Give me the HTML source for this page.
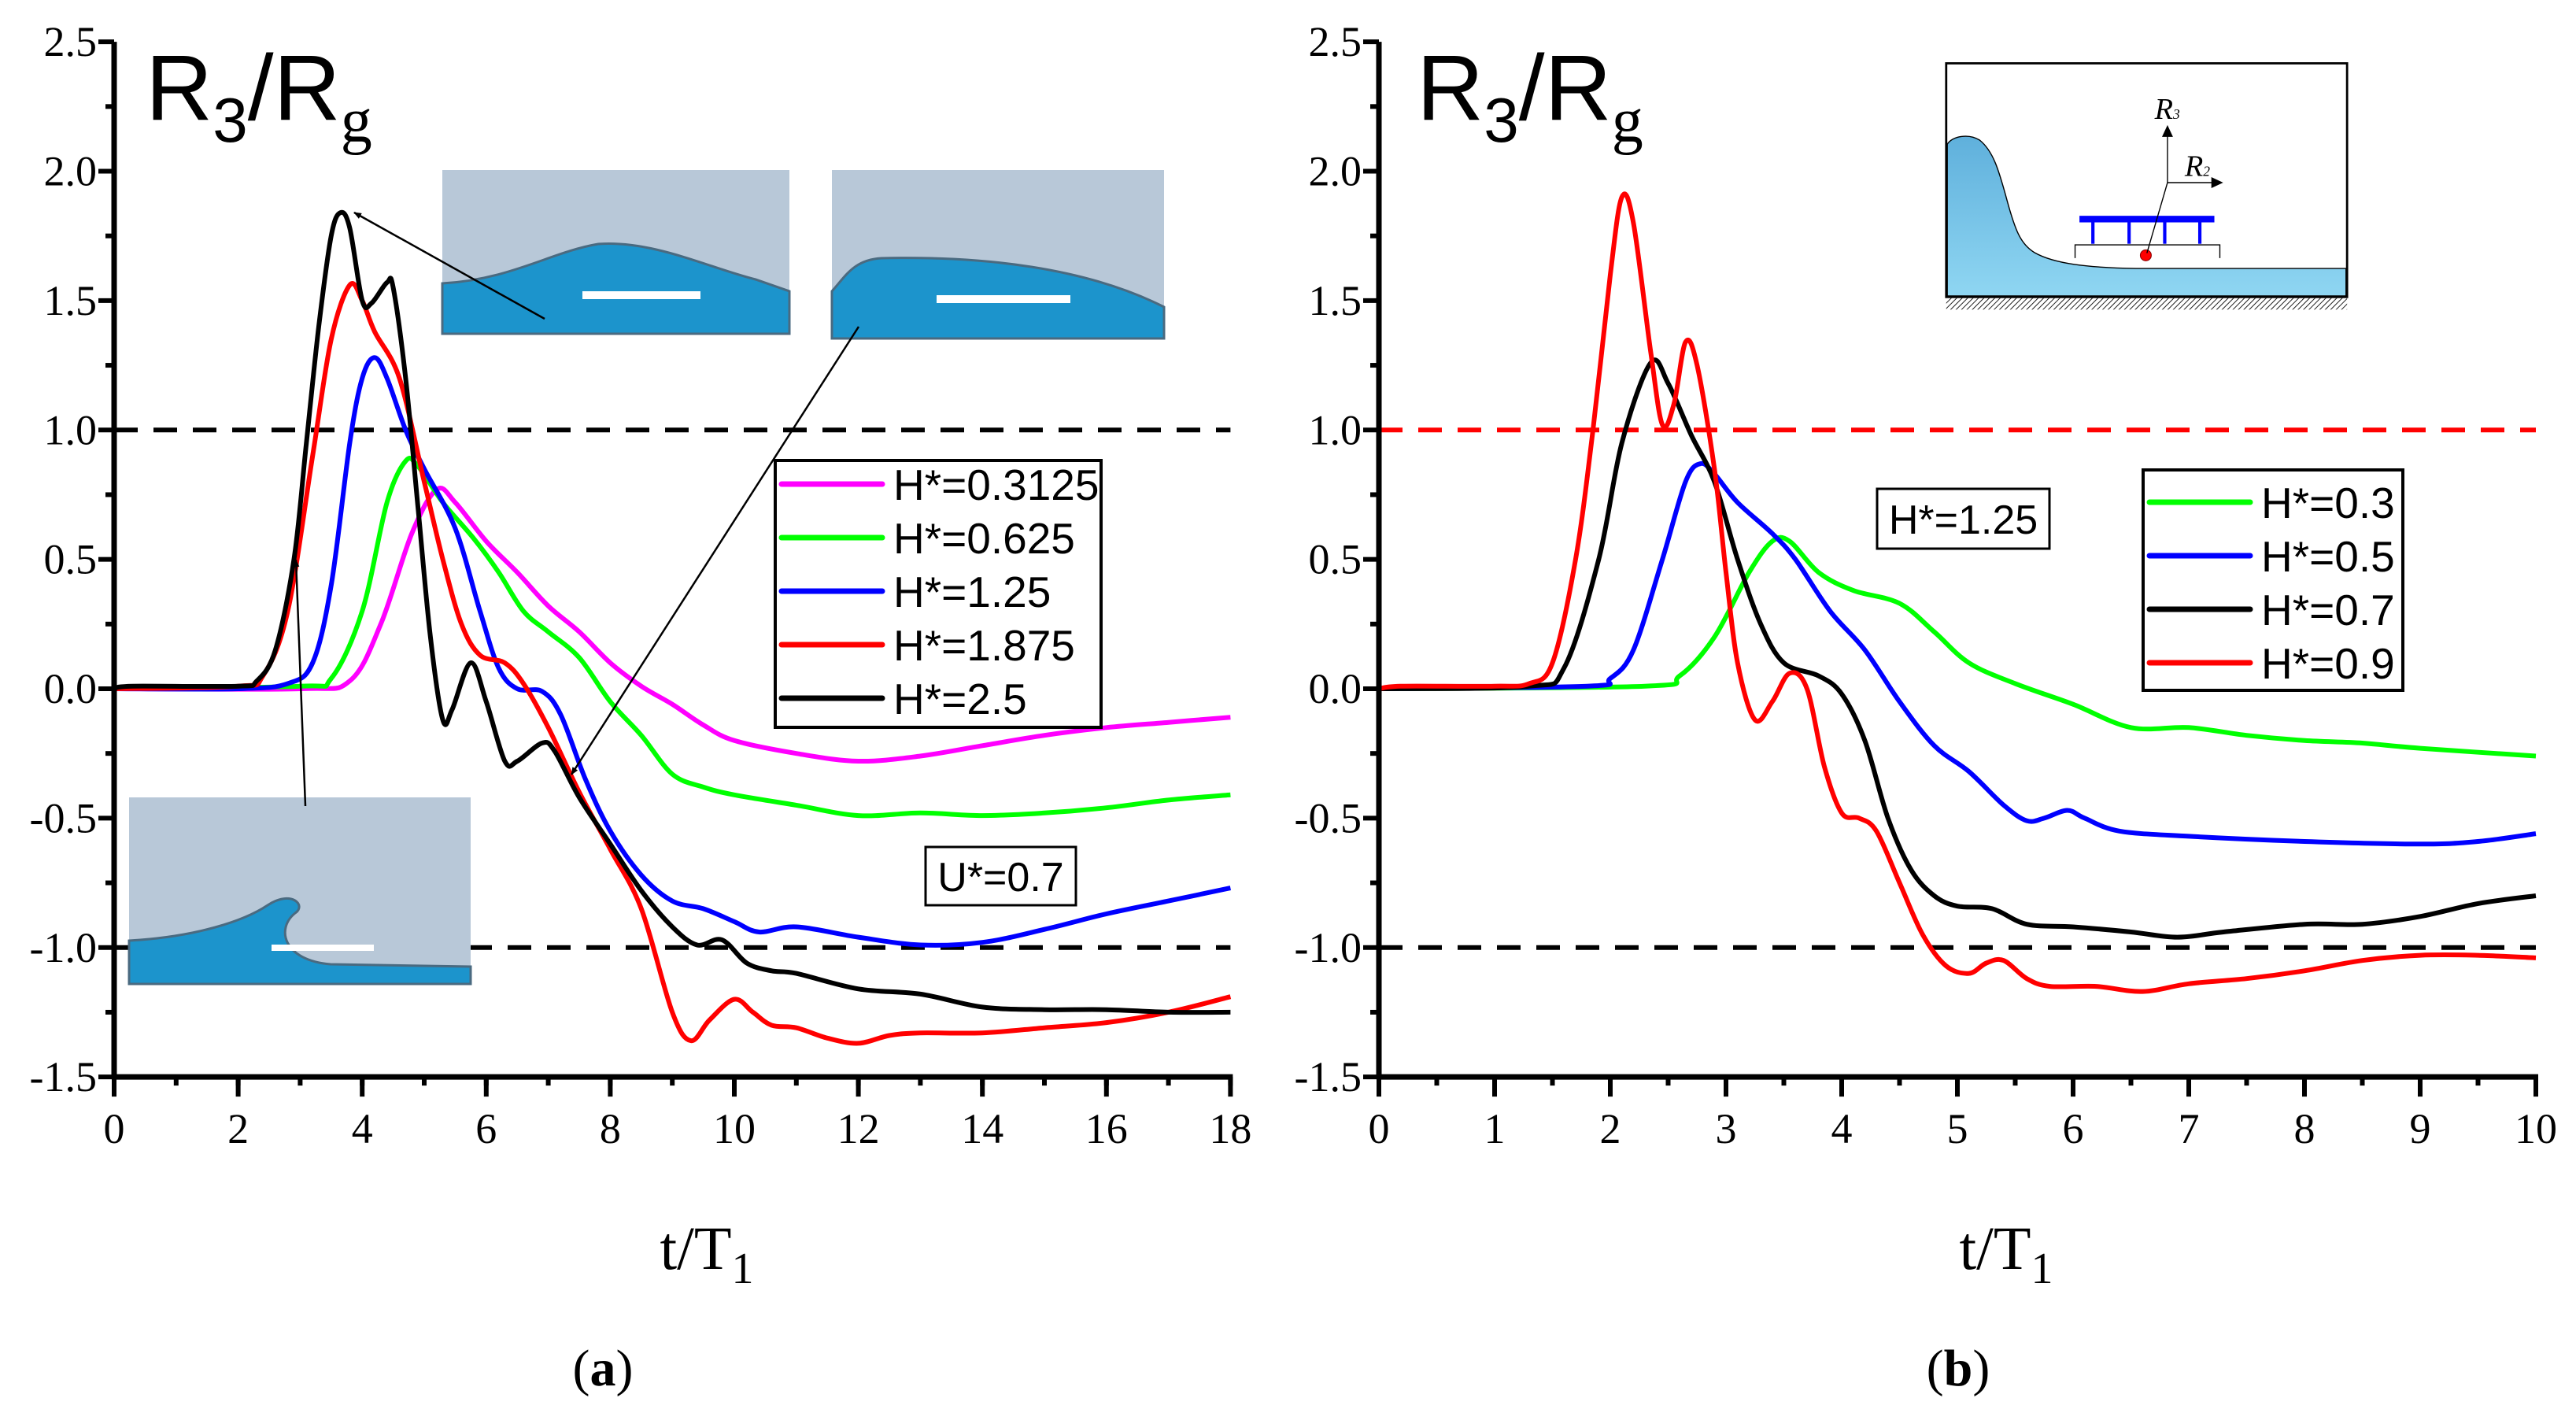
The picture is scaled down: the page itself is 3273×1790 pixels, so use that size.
<!DOCTYPE html>
<html><head><meta charset="utf-8"><style>
html,body{margin:0;padding:0;background:#fff}
svg{display:block}
</style></head><body>
<svg id="fig" width="3273" height="1790" viewBox="0 0 3273 1790" xmlns="http://www.w3.org/2000/svg" style="font-family:'Liberation Sans',sans-serif">
<defs>
<marker id="ah" markerWidth="10" markerHeight="8" refX="9" refY="4" orient="auto" markerUnits="userSpaceOnUse" viewBox="0 0 10 8"><path d="M0,0L10,4L0,8z" fill="#000"/></marker>
<pattern id="hatch" width="14" height="14" patternUnits="userSpaceOnUse" patternTransform="rotate(45)"><line x1="0" y1="0" x2="0" y2="14" stroke="#000" stroke-width="5"/></pattern>
<linearGradient id="wg" x1="0" y1="0" x2="0" y2="1"><stop offset="0" stop-color="#5fb0dc"/><stop offset="1" stop-color="#8fd6f2"/></linearGradient>
</defs>
<g id="panelA"></g>
<g id="panelB"></g>
<g id="deco">
  <g>
    <rect x="562" y="216" width="441" height="208" fill="#b8c8d8"/>
    <path d="M562,360 C650,355 700,320 760,310 C830,305 900,340 960,355 L1003,370 L1003,424 L562,424Z" fill="#1c94cc" stroke="#4a6a80" stroke-width="3"/>
    <rect x="740" y="370" width="150" height="10" fill="#fff"/>
  </g>
  <g>
    <rect x="1057" y="216" width="422" height="214" fill="#b8c8d8"/>
    <path d="M1057,370 C1075,350 1085,330 1120,328 C1250,325 1380,340 1479,390 L1479,430 L1057,430Z" fill="#1c94cc" stroke="#4a6a80" stroke-width="3"/>
    <rect x="1190" y="375" width="170" height="10" fill="#fff"/>
  </g>
  <g>
    <rect x="164" y="1013" width="434" height="237" fill="#b8c8d8"/>
    <path d="M164,1195 C250,1190 310,1170 340,1150 C370,1130 390,1150 375,1160 C350,1180 360,1220 420,1225 L598,1228 L598,1250 L164,1250Z" fill="#1c94cc" stroke="#4a6a80" stroke-width="3"/>
    <rect x="345" y="1200" width="130" height="8" fill="#fff"/>
  </g>
  <line x1="692" y1="405" x2="450" y2="270" stroke="#000" stroke-width="2.5" marker-end="url(#ah)"/>
  <line x1="1091" y1="415" x2="726" y2="984" stroke="#000" stroke-width="2.5" marker-end="url(#ah)"/>
  <line x1="388" y1="1024" x2="376" y2="711" stroke="#000" stroke-width="2.5" marker-end="url(#ah)"/>
  <g transform="translate(2470,70) scale(0.3484)">
    <rect x="8" y="30" width="1462" height="852" fill="#fff" stroke="#000" stroke-width="8"/>
    <path d="M12,325 C30,295 90,285 130,310 C180,350 200,420 230,530 C260,640 280,690 330,720 C400,760 520,775 700,778 L1466,778 L1466,878 L12,878Z" fill="url(#wg)" stroke="#000" stroke-width="4"/>
    <rect x="8" y="886" width="1462" height="42" fill="url(#hatch)"/>
    <path d="M478,740 L478,692 L1006,692 L1006,740" fill="none" stroke="#000" stroke-width="4"/>
    <g fill="none" stroke="#0000ff" stroke-width="12"><rect x="500" y="592" width="480" height="12"/><line x1="543" y1="604" x2="543" y2="688"/><line x1="675" y1="604" x2="675" y2="688"/><line x1="805" y1="604" x2="805" y2="688"/><line x1="933" y1="604" x2="933" y2="688"/></g>
    <circle cx="736" cy="730" r="20" fill="#f00" stroke="#800" stroke-width="3"/>
    <line x1="740" y1="722" x2="815" y2="465" stroke="#000" stroke-width="4"/>
    <line x1="815" y1="465" x2="815" y2="280" stroke="#000" stroke-width="4"/>
    <path d="M795,298 L815,255 L835,298Z"/>
    <line x1="815" y1="465" x2="985" y2="465" stroke="#000" stroke-width="4"/>
    <path d="M975,445 L1018,465 L975,485Z"/>
    <text x="768" y="232" style="font-family:'Liberation Serif',serif;font-style:italic;font-size:110px">R<tspan style="font-size:50px">3</tspan></text>
    <text x="878" y="440" style="font-family:'Liberation Serif',serif;font-style:italic;font-size:110px">R<tspan style="font-size:50px">2</tspan></text>
  </g>
</g>
</svg>
<script>
// Panel (a) data
const aSeriesNames = ["H*=0.3125","H*=0.625","H*=1.25","H*=1.875","H*=2.5"];
const aColors = ["#ff00ff","#00ff00","#0000ff","#ff0000","#000000"];
const aMagentaT = [0,3,3.8,4.3,4.8,5.2,5.5,6,6.5,7,7.5,8,8.5,9,9.5,10,11,12,13,14,15,16,17,18];
const aMagentaV = [0,0,0.03,0.25,0.6,0.77,0.72,0.57,0.45,0.32,0.22,0.1,0.01,-0.06,-0.14,-0.2,-0.25,-0.28,-0.26,-0.22,-0.18,-0.15,-0.13,-0.11];
const aGreenT = [0,3,3.5,4.0,4.4,4.7,4.9,5.3,5.8,6.2,6.6,7,7.5,8,8.5,9,9.5,10,11,12,13,14,15,16,17,18];
const aGreenV = [0,0.01,0.04,0.3,0.72,0.88,0.86,0.72,0.58,0.45,0.3,0.22,0.12,-0.05,-0.18,-0.33,-0.38,-0.41,-0.45,-0.49,-0.48,-0.49,-0.48,-0.46,-0.43,-0.41];
const aBlueT = [0,2,2.8,3.2,3.5,3.8,4.0,4.2,4.4,4.7,5.0,5.5,5.9,6.2,6.5,6.9,7.2,7.6,8,8.5,9,9.5,10,10.4,11,12,13,14,15,16,17,18];
const aBlueV = [0,0,0.02,0.1,0.4,0.95,1.2,1.28,1.2,1.0,0.85,0.62,0.3,0.08,0.0,-0.01,-0.1,-0.35,-0.55,-0.72,-0.82,-0.85,-0.9,-0.94,-0.92,-0.96,-0.99,-0.98,-0.93,-0.87,-0.82,-0.77];
const aRedT = [0,2,2.4,2.8,3.2,3.5,3.8,4.0,4.2,4.6,5.0,5.3,5.6,5.9,6.3,6.6,7,7.5,8,8.5,9,9.3,9.6,10,10.3,10.6,11,11.5,12,12.5,13,14,15,16,17,18];
const aRedV = [0,0.01,0.05,0.3,0.9,1.35,1.56,1.5,1.38,1.2,0.8,0.5,0.25,0.13,0.1,0.02,-0.15,-0.4,-0.62,-0.85,-1.25,-1.36,-1.28,-1.2,-1.25,-1.3,-1.31,-1.35,-1.37,-1.34,-1.33,-1.33,-1.31,-1.29,-1.25,-1.19];
const aBlackT = [0,0.3,2,2.3,2.6,2.9,3.1,3.3,3.5,3.65,3.8,4.0,4.15,4.4,4.5,4.7,4.9,5.1,5.3,5.45,5.75,6.0,6.3,6.5,6.9,7.1,7.5,8,8.5,9,9.4,9.8,10.2,10.6,11,12,13,14,15,16,17,18];
const aBlackV = [0,0.01,0.01,0.03,0.15,0.5,0.95,1.4,1.75,1.84,1.78,1.5,1.49,1.57,1.55,1.2,0.7,0.2,-0.12,-0.08,0.1,-0.05,-0.28,-0.28,-0.21,-0.24,-0.42,-0.6,-0.78,-0.92,-0.99,-0.97,-1.06,-1.09,-1.1,-1.16,-1.18,-1.23,-1.24,-1.24,-1.25,-1.25];
const aXTicks = [0,2,4,6,8,10,12,14,16,18];
// Panel (b) data
const bSeriesNames = ["H*=0.3","H*=0.5","H*=0.7","H*=0.9"];
const bColors = ["#00ff00","#0000ff","#000000","#ff0000"];
const bGreenT = [0,2.3,2.6,2.9,3.2,3.4,3.55,3.8,4.1,4.5,4.8,5.1,5.5,6,6.5,7,7.5,8,8.5,9,10];
const bGreenV = [0,0.01,0.05,0.2,0.45,0.57,0.57,0.45,0.38,0.33,0.22,0.1,0.02,-0.06,-0.15,-0.15,-0.18,-0.2,-0.21,-0.23,-0.26];
const bBlueT = [0,1.8,2.0,2.2,2.45,2.65,2.78,2.9,3.1,3.4,3.6,3.9,4.2,4.5,4.8,5.1,5.4,5.6,5.75,5.95,6.1,6.4,7,8,9,9.5,10];
const bBlueV = [0,0.01,0.04,0.15,0.5,0.8,0.87,0.83,0.72,0.6,0.5,0.3,0.15,-0.05,-0.22,-0.32,-0.45,-0.51,-0.5,-0.47,-0.5,-0.55,-0.57,-0.59,-0.6,-0.59,-0.56];
const bBlackT = [0,1.3,1.6,1.9,2.1,2.35,2.5,2.7,2.9,3.1,3.3,3.5,3.8,4.0,4.2,4.4,4.6,4.8,5.0,5.3,5.6,6,6.5,6.9,7.3,8,8.5,9,9.5,10];
const bBlackV = [0,0.01,0.08,0.5,0.95,1.26,1.18,0.98,0.8,0.5,0.25,0.1,0.05,-0.02,-0.2,-0.5,-0.7,-0.8,-0.84,-0.85,-0.91,-0.92,-0.94,-0.96,-0.94,-0.91,-0.91,-0.88,-0.83,-0.8];
const bRedT = [0,0.2,1,1.3,1.5,1.7,1.85,2.0,2.1,2.2,2.35,2.45,2.55,2.65,2.75,2.9,3.0,3.1,3.25,3.4,3.55,3.7,3.85,4.0,4.15,4.3,4.5,4.7,4.9,5.1,5.25,5.4,5.6,5.8,6.2,6.6,7,7.5,8,8.5,9,9.5,10];
const bRedV = [0,0.01,0.01,0.02,0.1,0.5,1.0,1.6,1.9,1.8,1.3,1.02,1.1,1.34,1.25,0.85,0.45,0.1,-0.12,-0.05,0.06,0.0,-0.3,-0.48,-0.5,-0.55,-0.75,-0.95,-1.07,-1.1,-1.06,-1.05,-1.12,-1.15,-1.15,-1.17,-1.14,-1.12,-1.09,-1.05,-1.03,-1.03,-1.04];
const bXTicks = [0,1,2,3,4,5,6,7,8,9,10];
const yTicks = [2.5,2.0,1.5,1.0,0.5,0.0,-0.5,-1.0,-1.5];

const NS="http://www.w3.org/2000/svg";
const SERIF="font-family:'Liberation Serif',serif;";
function mk(parent,tag,attrs){const e=document.createElementNS(NS,tag);for(const k in attrs)e.setAttribute(k,attrs[k]);parent.appendChild(e);return e;}
const Y0=875, YS=328.75;
function yv(v){return Y0 - v*YS;}
function smooth(pts){let d="M"+pts[0][0].toFixed(1)+","+pts[0][1].toFixed(1);
 for(let i=0;i<pts.length-1;i++){const p0=pts[Math.max(i-1,0)],p1=pts[i],p2=pts[i+1],p3=pts[Math.min(i+2,pts.length-1)];
  const c1x=p1[0]+(p2[0]-p0[0])/6,c1y=p1[1]+(p2[1]-p0[1])/6,c2x=p2[0]-(p3[0]-p1[0])/6,c2y=p2[1]-(p3[1]-p1[1])/6;
  d+=" C"+c1x.toFixed(1)+","+c1y.toFixed(1)+" "+c2x.toFixed(1)+","+c2y.toFixed(1)+" "+p2[0].toFixed(1)+","+p2[1].toFixed(1);}
 return d;}

function panel(g,x0,xs,xmax,xTicks,minorStep,series,colors,names,dashColors,legend,boxText,boxRect,titleX,labelX,letterX,letter){
 const xv=t=>x0+t*xs; const xEnd=xv(xmax);
 const d1=mk(g,"line",{x1:x0,y1:yv(1),x2:xEnd,y2:yv(1),stroke:dashColors[0],"stroke-width":6,"stroke-dasharray":"30 20"});
 
 
 const d2=mk(g,"line",{x1:x0,y1:yv(-1),x2:xEnd,y2:yv(-1),stroke:dashColors[1],"stroke-width":6,"stroke-dasharray":"30 20"});
 
 
 series.forEach((s,i)=>{const pts=s[0].map((t,j)=>[xv(t),yv(s[1][j])]);
  const p=mk(g,"path",{d:smooth(pts),fill:"none",stroke:colors[i],"stroke-width":6,"stroke-linejoin":"round"});
  
  });
 const ax=mk(g,"g",{});
 
 
 mk(ax,"line",{x1:x0,y1:yv(2.5),x2:x0,y2:yv(-1.5)+3,stroke:"#000","stroke-width":7});
 mk(ax,"line",{x1:x0-3,y1:yv(-1.5),x2:xEnd+3,y2:yv(-1.5),stroke:"#000","stroke-width":7});
 for(let v=-1.5;v<=2.5001;v+=0.25){const major=Math.abs(v*2-Math.round(v*2))<1e-6;
  mk(ax,"line",{x1:x0-(major?20:11),y1:yv(v),x2:x0,y2:yv(v),stroke:"#000","stroke-width":6});}
 yTicks.forEach(v=>{const t=mk(ax,"text",{x:x0-22,y:yv(v)+18,"text-anchor":"end",style:SERIF+"font-size:54px"});t.textContent=v.toFixed(1);
  
  });
 for(let v=0;v<=xmax+1e-6;v+=minorStep){mk(ax,"line",{x1:xv(v),y1:yv(-1.5),x2:xv(v),y2:yv(-1.5)+11,stroke:"#000","stroke-width":6});}
 xTicks.forEach(v=>{mk(ax,"line",{x1:xv(v),y1:yv(-1.5),x2:xv(v),y2:yv(-1.5)+25,stroke:"#000","stroke-width":6});
  const t=mk(ax,"text",{x:xv(v),y:yv(-1.5)+84,"text-anchor":"middle",style:SERIF+"font-size:54px"});t.textContent=String(v);
  
  });
 const yt=mk(g,"text",{x:titleX,y:152,style:"font-size:118px"});yt.innerHTML='R<tspan style="font-size:80px" dy="28">3</tspan><tspan dy="-28">/R</tspan><tspan style="font-size:80px;font-family:\'Liberation Serif\',serif" dy="28">g</tspan>';
 
 
 const xt=mk(g,"text",{x:labelX,y:1612,"text-anchor":"middle",style:SERIF+"font-size:78px"});xt.innerHTML='t/T<tspan style="font-size:56px" dy="18">1</tspan>';
 
 
 const lt=mk(g,"text",{x:letterX,y:1760,"text-anchor":"middle",style:SERIF+"font-size:66px"});lt.innerHTML='(<tspan style="font-weight:bold">'+letter+'</tspan>)';
 
 
 const lg=mk(g,"g",{});
 
 
 mk(lg,"rect",{x:legend.x,y:legend.y,width:legend.w,height:legend.h,fill:"#fff",stroke:"#000","stroke-width":4});
 names.forEach((n,i)=>{const yy=legend.y0+i*legend.dy;
  const e=mk(lg,"g",{});
  
  
  mk(e,"line",{x1:legend.x+8,y1:yy,x2:legend.x+136,y2:yy,stroke:colors[i],"stroke-width":7,"stroke-linecap":"round"});
  const t=mk(e,"text",{x:legend.x+150,y:yy+20,style:"font-size:55px"});t.textContent=n;});
 const bx=mk(g,"g",{});
 
 
 mk(bx,"rect",{x:boxRect[0],y:boxRect[1],width:boxRect[2],height:boxRect[3],fill:"#fff",stroke:"#000","stroke-width":3});
 const bt=mk(bx,"text",{x:boxRect[0]+boxRect[2]/2,y:boxRect[1]+boxRect[3]/2+19,"text-anchor":"middle",style:"font-size:52px"});bt.textContent=boxText;
}
panel(document.getElementById("panelA"),145,78.8,18,aXTicks,1,
 [[aMagentaT,aMagentaV],[aGreenT,aGreenV],[aBlueT,aBlueV],[aRedT,aRedV],[aBlackT,aBlackV]],
 aColors,aSeriesNames,["#000","#000"],{x:985,y:585,w:414,h:339,y0:615,dy:68},"U*=0.7",[1176,1076,191,74],185,898,766,"a");
panel(document.getElementById("panelB"),1752,147,10,bXTicks,0.5,
 [[bGreenT,bGreenV],[bBlueT,bBlueV],[bBlackT,bBlackV],[bRedT,bRedV]],
 bColors,bSeriesNames,["#ff0000","#000"],{x:2723,y:597,w:330,h:280,y0:638,dy:68},"H*=1.25",[2385,621,219,76],1800,2549,2488,"b");
document.getElementById("fig").appendChild(document.getElementById("deco"));
</script>
</body></html>
